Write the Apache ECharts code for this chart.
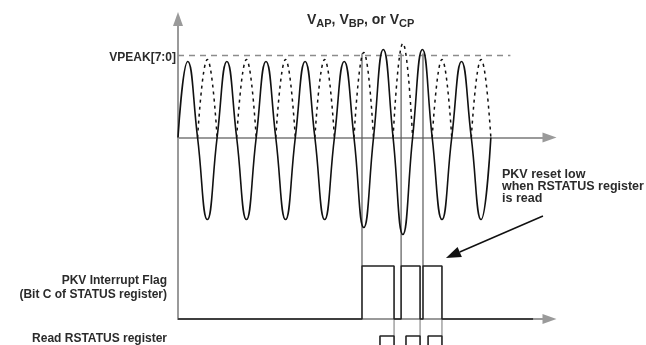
<!DOCTYPE html>
<html><head><meta charset="utf-8">
<script src="https://cdn.jsdelivr.net/npm/echarts@6/dist/echarts.min.js"></script>
<style>html,body{margin:0;padding:0;background:#fff}#c{width:646px;height:345px}</style>
</head><body><div id="c"></div>
<script>
// ---------------- data ----------------
const halfPeriod = 10;                                  // time units per half cycle
const solidPosPeaks   = [76, 76, 76, 76, 76, 88, 88, 76];   // positive half-cycle peaks
const solidNegTroughs = [82, 82, 82, 82, 90, 97, 82, 82];   // negative half-cycle depths
const dashedPeaks     = [78, 78, 78, 78, 85, 94, 78, 78];   // rectified (dashed) arches
const vpeakLevel = 82;
const vpeakEnd = 170;
const eventTimes = [94.1, 114.1, 125.3];                // VPEAK crossings
const eventTop = 84;
const flagHighIntervals = [[94.1, 110.5], [114.1, 123.8], [125.3, 135.0]];
const flagEnd = 181.6;
const readHighIntervals = [[103.3, 110.5], [116.6, 123.8], [127.9, 135.0]];
const readFallTimes = [110.5, 123.8, 135.0];
const labelVpeak = 'VPEAK[7:0]';
const labelFlag = ['PKV Interrupt Flag', '(Bit C of STATUS register)'];
const labelRead = 'Read RSTATUS register';
const labelNote = ['PKV reset low', 'when RSTATUS register', 'is read'];
const titleParts = [['V', 'AP'], [', V', 'BP'], [', or V', 'CP']];

// ---------------- build series data ----------------
const solid = [];
for (let i = 0; i < solidPosPeaks.length; i++) {
  const t0 = 2 * i * halfPeriod;
  solid.push([t0, 0], [t0 + halfPeriod / 2, solidPosPeaks[i]],
             [t0 + halfPeriod, 0], [t0 + 1.5 * halfPeriod, -solidNegTroughs[i]]);
}
solid.push([2 * solidPosPeaks.length * halfPeriod, 0]);

const dashed = [];
for (let i = 0; i < dashedPeaks.length; i++) {
  const t0 = 2 * i * halfPeriod + halfPeriod;
  dashed.push([t0, 0], [t0 + halfPeriod / 2, dashedPeaks[i]], [t0 + halfPeriod, 0], ['-', '-']);
}

const flag = [[0, 0]];
flagHighIntervals.forEach(([a, b]) => { flag.push([a, 0], [a, 1], [b, 1], [b, 0]); });
flag.push([flagEnd, 0]);

const read = [];
readHighIntervals.forEach(([a, b]) => { read.push([a, 0], [a, 1], [b, 1], [b, 0]); });

// ---------------- chart ----------------
const FONT = '"Liberation Sans", Arial, Helvetica, sans-serif';
const TXT = '#2b2b2b';
const AX = '#9a9a9a';
const axisArrow = {show: true, onZero: true, symbol: ['none', 'triangle'], symbolSize: [10, 14],
  lineStyle: {color: AX, width: 2}};
const xBase = {type: 'value', min: 0, max: 190, axisTick: {show: false},
  axisLabel: {show: false}, splitLine: {show: false}};
const noAxis = {type: 'value', show: false, min: 0, max: 1};

const chart = echarts.init(document.getElementById('c'), null, {renderer: 'canvas'});
chart.setOption({
  animation: false,
  backgroundColor: '#fff',
  grid: [
    {left: 178, right: 96.5, top: 19, height: 300},
    {left: 178, right: 96.5, top: 266, height: 53},
    {left: 178, right: 96.5, top: 336, height: 40}
  ],
  xAxis: [
    Object.assign({}, xBase, {gridIndex: 0, axisLine: axisArrow}),
    Object.assign({}, xBase, {gridIndex: 1, axisLine: axisArrow}),
    Object.assign({}, xBase, {gridIndex: 2, show: false})
  ],
  yAxis: [
    {type: 'value', gridIndex: 0, min: -181.5, max: 118.5, axisTick: {show: false},
     axisLabel: {show: false}, splitLine: {show: false},
     axisLine: {show: true, symbol: ['none', 'triangle'], symbolSize: [10, 14],
       lineStyle: {color: AX, width: 2}}},
    Object.assign({}, noAxis, {gridIndex: 1}),
    Object.assign({}, noAxis, {gridIndex: 2})
  ],
  series: [
    {type: 'line', xAxisIndex: 0, yAxisIndex: 0, data: [[0, vpeakLevel], [vpeakEnd, vpeakLevel]],
     symbol: 'none', lineStyle: {color: '#8c8c8c', width: 1.3, type: [6, 5]}},
    {type: 'line', xAxisIndex: 0, yAxisIndex: 0, data: solid, smooth: 0.5, symbol: 'none',
     clip: false, lineStyle: {color: '#111', width: 1.6}},
    {type: 'line', xAxisIndex: 0, yAxisIndex: 0, data: dashed, smooth: 0.5, symbol: 'none',
     connectNulls: false, clip: false, lineStyle: {color: '#111', width: 1.5, type: [3, 4]}},
    {type: 'line', xAxisIndex: 1, yAxisIndex: 1, data: flag, symbol: 'none', clip: false,
     lineStyle: {color: '#222', width: 1.6}},
    {type: 'line', xAxisIndex: 2, yAxisIndex: 2, data: read, symbol: 'none', clip: false,
     lineStyle: {color: '#222', width: 1.6}}
  ]
});

// ---------------- connectors & annotations through the axes ----------------
const g = [];
eventTimes.forEach(t => {
  const p1 = chart.convertToPixel({gridIndex: 0}, [t, eventTop]);
  const p2 = chart.convertToPixel({gridIndex: 1}, [t, 1]);
  g.push({type: 'line', shape: {x1: p1[0], y1: p1[1], x2: p2[0], y2: p2[1]},
          style: {stroke: '#5a5a5a', lineWidth: 1.2}, z: 1});
});
readFallTimes.forEach(t => {
  const p1 = chart.convertToPixel({gridIndex: 1}, [t, 0]);
  const p2 = chart.convertToPixel({gridIndex: 2}, [t, 1]);
  g.push({type: 'line', shape: {x1: p1[0], y1: p1[1], x2: p2[0], y2: p2[1]},
          style: {stroke: '#8a8a8a', lineWidth: 1.2}, z: 1});
});

// arrow pointing at the end of the last flag pulse
const lastEnd = flagHighIntervals[flagHighIntervals.length - 1][1];
const pe = chart.convertToPixel({gridIndex: 1}, [lastEnd, 1]);
const tip = [pe[0] + 4, pe[1] - 8];
const tail = [tip[0] + 97, tip[1] - 42];
const len = Math.hypot(tail[0] - tip[0], tail[1] - tip[1]);
const ux = (tip[0] - tail[0]) / len, uy = (tip[1] - tail[1]) / len;
const headL = 15, headW = 5.5;
const bc = [tip[0] - ux * headL, tip[1] - uy * headL];
g.push({type: 'line', shape: {x1: tail[0], y1: tail[1], x2: bc[0], y2: bc[1]},
        style: {stroke: '#111', lineWidth: 1.5}});
g.push({type: 'polygon', shape: {points: [tip, [bc[0] - uy * headW, bc[1] + ux * headW],
        [bc[0] + uy * headW, bc[1] - ux * headW]]}, style: {fill: '#111'}});

function txt(x, y, text, align, size, vAlign, lh) {
  return {type: 'text', x: x, y: y, style: {text: text, fill: TXT, textFill: TXT,
    font: 'bold ' + size + 'px ' + FONT, align: align, textAlign: align,
    verticalAlign: vAlign || 'middle', textVerticalAlign: vAlign || 'middle',
    lineHeight: lh || size + 2}};
}
g.push(txt(176, 58, labelVpeak, 'right', 12));
g.push(txt(167, 281, labelFlag[0], 'right', 12));
g.push(txt(167, 295, labelFlag[1], 'right', 12));
g.push(txt(167, 339, labelRead, 'right', 12));
g.push(txt(502, 169, labelNote.join('\n'), 'left', 12.5, 'top', 11.7));

// title with subscripts (rich text)
const titleText = titleParts.map(p => '{v|' + p[0] + '}{s|' + p[1] + '}').join('');
g.push({type: 'text', x: 307, y: 20, style: {
  text: titleText, align: 'left', textAlign: 'left', verticalAlign: 'middle', textVerticalAlign: 'middle',
  fill: TXT, textFill: TXT,
  rich: {
    v: {fontFamily: FONT, fontWeight: 'bold', fontSize: 14, fill: TXT, textFill: TXT},
    s: {fontFamily: FONT, fontWeight: 'bold', fontSize: 11, fill: TXT, textFill: TXT, padding: [8, 0, 0, 0]}
  }}});

chart.setOption({graphic: {elements: g}});
</script></body></html>
